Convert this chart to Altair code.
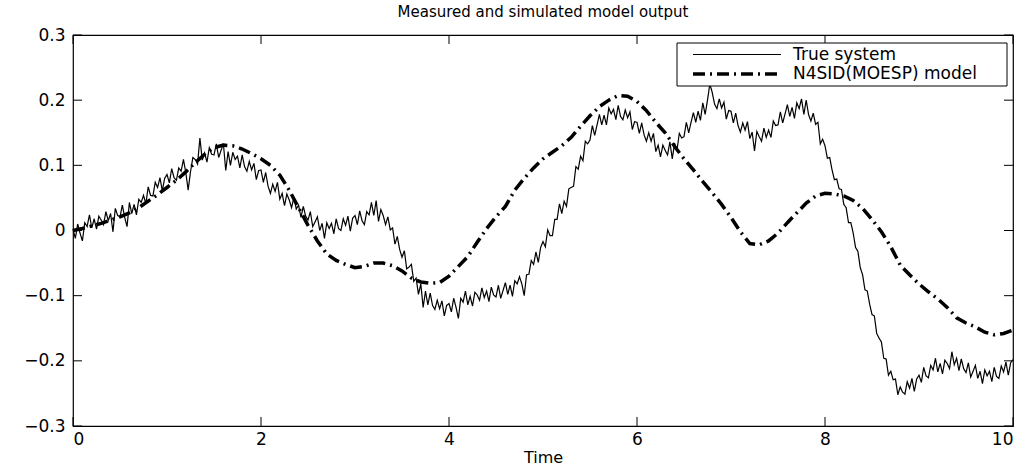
import altair as alt
import pandas as pd

# ---- data ----
# True system output, sampled every 0.025 s (t = 0 ... 10)
true_t_step = 0.025
true_y = [
    0.002, -0.012, 0.010, -0.004, -0.016, 0.012, 0.006, 0.024, 0.004, 0.018, 0.002, 0.022, 0.016, 0.009, 0.029, 0.015, 0.026, -0.002, 0.034, 0.023,
    0.021, 0.039, 0.020, 0.006, 0.043, 0.026, 0.040, 0.024, 0.048, 0.043, 0.054, 0.041, 0.067, 0.054, 0.053, 0.074, 0.066, 0.081, 0.061, 0.080,
    0.086, 0.073, 0.095, 0.081, 0.077, 0.096, 0.091, 0.109, 0.089, 0.062, 0.090, 0.112, 0.109, 0.102, 0.142, 0.108, 0.119, 0.105, 0.127, 0.117,
    0.116, 0.133, 0.112, 0.123, 0.133, 0.092, 0.121, 0.100, 0.120, 0.109, 0.114, 0.096, 0.116, 0.098, 0.091, 0.106, 0.093, 0.103, 0.078, 0.092,
    0.093, 0.074, 0.089, 0.068, 0.057, 0.071, 0.060, 0.074, 0.048, 0.057, 0.038, 0.056, 0.047, 0.035, 0.051, 0.033, 0.039, 0.020, 0.037, 0.022,
    0.016, 0.029, 0.006, 0.013, 0.021, 0.000, 0.011, -0.012, 0.012, 0.003, 0.011, -0.005, 0.018, 0.003, 0.000, 0.018, 0.008, 0.022, -0.001, 0.019,
    0.023, 0.009, 0.030, 0.015, 0.009, 0.029, 0.024, 0.043, 0.023, 0.046, 0.014, 0.032, 0.023, 0.009, 0.021, 0.001, 0.004, -0.021, -0.009, -0.029,
    -0.041, -0.031, -0.059, -0.056, -0.052, -0.078, -0.073, -0.098, -0.082, -0.118, -0.093, -0.114, -0.096, -0.115, -0.121, -0.107, -0.120, -0.108, -0.131, -0.115,
    -0.112, -0.125, -0.104, -0.118, -0.135, -0.104, -0.110, -0.093, -0.114, -0.101, -0.116, -0.095, -0.099, -0.107, -0.088, -0.103, -0.093, -0.109, -0.087, -0.099,
    -0.102, -0.084, -0.104, -0.092, -0.080, -0.098, -0.084, -0.101, -0.077, -0.082, -0.071, -0.082, -0.100, -0.068, -0.067, -0.046, -0.052, -0.033, -0.049, -0.026,
    -0.017, -0.025, 0.001, -0.008, -0.008, 0.017, 0.017, 0.041, 0.026, 0.045, 0.037, 0.064, 0.066, 0.068, 0.098, 0.094, 0.114, 0.107, 0.137, 0.133,
    0.139, 0.161, 0.146, 0.162, 0.178, 0.162, 0.177, 0.162, 0.188, 0.179, 0.186, 0.170, 0.192, 0.175, 0.170, 0.185, 0.173, 0.182, 0.155, 0.167,
    0.166, 0.149, 0.165, 0.147, 0.137, 0.150, 0.137, 0.149, 0.121, 0.131, 0.113, 0.131, 0.123, 0.116, 0.136, 0.110, 0.134, 0.123, 0.149, 0.142,
    0.144, 0.166, 0.150, 0.166, 0.181, 0.166, 0.183, 0.169, 0.196, 0.178, 0.200, 0.225, 0.212, 0.194, 0.187, 0.202, 0.188, 0.197, 0.171, 0.184,
    0.183, 0.165, 0.180, 0.161, 0.151, 0.165, 0.154, 0.167, 0.141, 0.151, 0.122, 0.152, 0.144, 0.137, 0.157, 0.143, 0.154, 0.143, 0.168, 0.161,
    0.162, 0.182, 0.165, 0.179, 0.193, 0.175, 0.189, 0.172, 0.196, 0.187, 0.202, 0.178, 0.200, 0.178, 0.168, 0.180, 0.163, 0.166, 0.133, 0.140,
    0.130, 0.111, 0.112, 0.093, 0.078, 0.079, 0.064, 0.063, 0.040, 0.035, 0.012, 0.012, -0.004, -0.026, -0.032, -0.057, -0.068, -0.091, -0.093, -0.113,
    -0.129, -0.131, -0.158, -0.165, -0.171, -0.196, -0.197, -0.222, -0.216, -0.229, -0.228, -0.252, -0.240, -0.248, -0.251, -0.232, -0.242, -0.227, -0.247, -0.228,
    -0.222, -0.233, -0.210, -0.223, -0.226, -0.207, -0.214, -0.196, -0.217, -0.204, -0.220, -0.199, -0.204, -0.212, -0.186, -0.206, -0.196, -0.215, -0.197, -0.212,
    -0.218, -0.203, -0.225, -0.216, -0.207, -0.227, -0.216, -0.235, -0.214, -0.223, -0.216, -0.232, -0.210, -0.224, -0.227, -0.208, -0.217, -0.202, -0.222, -0.203,
    -0.198,
]

# N4SID(MOESP) model output, sampled every 0.1 s
model_t_step = 0.1
model_y = [
    0.000, 0.003, 0.007, 0.011, 0.016, 0.021, 0.027, 0.035, 0.045, 0.055,
    0.066, 0.077, 0.090, 0.104, 0.117, 0.127, 0.131, 0.130, 0.125, 0.118,
    0.110, 0.100, 0.085, 0.062, 0.035, 0.008, -0.016, -0.036, -0.046, -0.052,
    -0.057, -0.055, -0.050, -0.050, -0.054, -0.062, -0.073, -0.079, -0.081, -0.080,
    -0.070, -0.055, -0.040, -0.018, 0.003, 0.021, 0.037, 0.062, 0.080, 0.096,
    0.110, 0.120, 0.130, 0.143, 0.160, 0.176, 0.190, 0.200, 0.207, 0.206,
    0.198, 0.184, 0.166, 0.150, 0.129, 0.110, 0.093, 0.075, 0.058, 0.040,
    0.020, -0.002, -0.020, -0.022, -0.016, -0.004, 0.012, 0.027, 0.042, 0.053,
    0.057, 0.056, 0.053, 0.046, 0.034, 0.017, -0.002, -0.025, -0.053, -0.068,
    -0.082, -0.094, -0.105, -0.118, -0.134, -0.142, -0.148, -0.156, -0.160, -0.158,
    -0.153,
]

series_names = ["True system", "N4SID(MOESP) model"]
x_ticks = [0, 2, 4, 6, 8, 10]
y_ticks = [-0.3, -0.2, -0.1, 0, 0.1, 0.2, 0.3]

# ---- build table ----
rows = []
for i, v in enumerate(true_y):
    rows.append({"t": round(i * true_t_step, 4), "y": v, "series": series_names[0], "order": i})
for i, v in enumerate(model_y):
    rows.append({"t": round(i * model_t_step, 4), "y": v, "series": series_names[1], "order": i})
df = pd.DataFrame(rows)
xt = pd.DataFrame({"v": x_ticks})
yt = pd.DataFrame({"v": y_ticks})

W, H = 940, 391
FONT = "DejaVu Sans"
xscale = alt.Scale(domain=[0, 10], nice=False, zero=False)
yscale = alt.Scale(domain=[-0.3, 0.3], nice=False, zero=False)
dash_scale = alt.Scale(domain=series_names, range=[[1, 0], [12, 5, 2, 5]])
width_scale = alt.Scale(domain=series_names, range=[1.2, 3.5])

lines = alt.Chart(df).mark_line(color="black", strokeCap="butt").encode(
    x=alt.X("t:Q", scale=xscale,
            axis=alt.Axis(values=x_ticks, ticks=False, domain=False, grid=False, format="d",
                          labelFont=FONT, labelFontSize=17, labelColor="black",
                          labelPadding=5, title="Time", titleFont=FONT,
                          titleFontSize=16, titleFontWeight="normal",
                          titleColor="black", titlePadding=2)),
    y=alt.Y("y:Q", scale=yscale,
            axis=alt.Axis(values=y_ticks, ticks=False, domain=False, grid=False,
                          labelFont=FONT, labelFontSize=17, labelColor="black",
                          labelPadding=8, title=None,
                          labelExpr="datum.value == 0 ? '0' : format(datum.value, '.1f')")),
    strokeDash=alt.StrokeDash("series:N", scale=dash_scale, legend=None),
    strokeWidth=alt.StrokeWidth("series:N", scale=width_scale, legend=None),
    detail="series:N",
    order="order:Q",
)

TL = 9
tick_bottom = alt.Chart(xt).mark_rule(color="black", strokeWidth=1).encode(
    x=alt.X("v:Q", scale=xscale), y=alt.value(H), y2=alt.value(H - TL))
tick_top = alt.Chart(xt).mark_rule(color="black", strokeWidth=1).encode(
    x=alt.X("v:Q", scale=xscale), y=alt.value(0), y2=alt.value(TL))
tick_left = alt.Chart(yt).mark_rule(color="black", strokeWidth=1).encode(
    y=alt.Y("v:Q", scale=yscale), x=alt.value(0), x2=alt.value(TL))
tick_right = alt.Chart(yt).mark_rule(color="black", strokeWidth=1).encode(
    y=alt.Y("v:Q", scale=yscale), x=alt.value(W), x2=alt.value(W - TL))

# ---- MATLAB-style legend box (top-right, inside the axes) ----
BOX_L, BOX_R, BOX_T, BOX_B = 604, 934, 8, 51
ROW_Y = [19.5, 39]
SAMPLE_L, SAMPLE_R = BOX_L + 16, BOX_L + 104
TEXT_X = SAMPLE_R + 12

legend_box = alt.Chart(pd.DataFrame({"k": [0]})).mark_rect(
    fill="white", stroke="black", strokeWidth=1).encode(
    x=alt.value(BOX_L), x2=alt.value(BOX_R), y=alt.value(BOX_T), y2=alt.value(BOX_B))

legend_parts = [legend_box]
for name, ry in zip(series_names, ROW_Y):
    one = pd.DataFrame({"series": [name]})
    legend_parts.append(
        alt.Chart(one).mark_rule(color="black", strokeCap="butt").encode(
            x=alt.value(SAMPLE_L), x2=alt.value(SAMPLE_R), y=alt.value(ry),
            strokeDash=alt.StrokeDash("series:N", scale=dash_scale, legend=None),
            strokeWidth=alt.StrokeWidth("series:N", scale=width_scale, legend=None)))
    legend_parts.append(
        alt.Chart(one).mark_text(align="left", baseline="middle", font=FONT,
                                 fontSize=17, color="black").encode(
            x=alt.value(TEXT_X), y=alt.value(ry), text="series:N"))

chart = alt.layer(lines, tick_bottom, tick_top, tick_left, tick_right,
                  *legend_parts).properties(
    width=W, height=H,
    background="white",
    title=alt.Title("Measured and simulated model output", font=FONT, fontSize=15,
                    fontWeight="normal", color="black", offset=6),
    autosize=alt.AutoSizeParams(type="none"),
    padding={"left": 73, "top": 35, "right": 22, "bottom": 44},
).configure_view(stroke="black", strokeWidth=1.2)

chart.save("out.html", embed_options={"renderer": "svg", "actions": False})
